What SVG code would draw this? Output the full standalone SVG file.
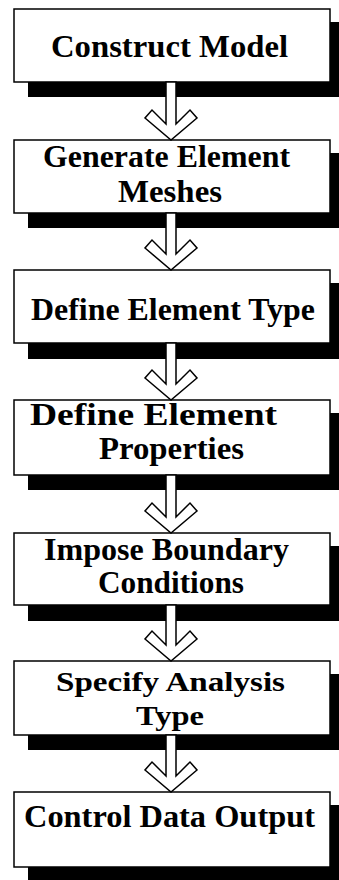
<svg xmlns="http://www.w3.org/2000/svg" width="339" height="880" viewBox="0 0 339 880">
<style>
.sh{fill:#000}
.bx{fill:#fff;stroke:#000;stroke-width:1.5}
.t{font-family:"Liberation Serif","Times New Roman",serif;font-weight:bold;font-size:32px;fill:#000}
.s{font-size:28px}
.m{font-size:31px}
.ar{fill:#fff;stroke:#000;stroke-width:1.5;stroke-linejoin:miter}
</style>
<rect width="339" height="880" fill="#fff"/>
<g id="n1">
<rect class="sh" x="28" y="22" width="311" height="75"/>
<rect class="bx" x="14" y="9" width="316" height="73"/>
<text class="t" x="51" y="57" textLength="237" lengthAdjust="spacingAndGlyphs">Construct Model</text>
</g>
<g id="n2">
<rect class="sh" x="28" y="153" width="311" height="75"/>
<rect class="bx" x="14" y="140" width="316" height="73"/>
<text class="t" x="43" y="167" textLength="247" lengthAdjust="spacingAndGlyphs">Generate Element</text>
<text class="t" x="118" y="202" textLength="104" lengthAdjust="spacingAndGlyphs">Meshes</text>
</g>
<g id="n3">
<rect class="sh" x="28" y="283" width="311" height="76"/>
<rect class="bx" x="14" y="270" width="316" height="73"/>
<text class="t" x="31" y="320" textLength="284" lengthAdjust="spacingAndGlyphs">Define Element Type</text>
</g>
<g id="n4">
<rect class="sh" x="28" y="413" width="311" height="77"/>
<rect class="bx" x="14" y="400" width="316" height="75"/>
<text class="t m" x="30" y="425" textLength="247" lengthAdjust="spacingAndGlyphs">Define Element</text>
<text class="t m" x="99" y="459" textLength="145" lengthAdjust="spacingAndGlyphs">Properties</text>
</g>
<g id="n5">
<rect class="sh" x="28" y="546" width="311" height="75"/>
<rect class="bx" x="14" y="533" width="316" height="72"/>
<text class="t" x="44" y="560" textLength="245" lengthAdjust="spacingAndGlyphs">Impose Boundary</text>
<text class="t" x="98" y="593" textLength="146" lengthAdjust="spacingAndGlyphs">Conditions</text>
</g>
<g id="n6">
<rect class="sh" x="28" y="674" width="311" height="76"/>
<rect class="bx" x="14" y="661" width="316" height="74"/>
<text class="t s" x="56" y="691" textLength="229" lengthAdjust="spacingAndGlyphs">Specify Analysis</text>
<text class="t s" x="136" y="725" textLength="68" lengthAdjust="spacingAndGlyphs">Type</text>
</g>
<g id="n7">
<rect class="sh" x="28" y="805" width="311" height="75"/>
<rect class="bx" x="14" y="792" width="316" height="75"/>
<text class="t" x="24" y="827" textLength="291" lengthAdjust="spacingAndGlyphs">Control Data Output</text>
</g>
<g id="connectors">
<polygon class="ar" points="166,82 166,124 152,110 145,118 171,140 197,118 190,110 176,124 176,82"/>
<polygon class="ar" points="166,213 166,254 152,240 145,248 171,270 197,248 190,240 176,254 176,213"/>
<polygon class="ar" points="166,343 166,384 152,370 145,378 171,400 197,378 190,370 176,384 176,343"/>
<polygon class="ar" points="166,475 166,517 152,503 145,511 171,533 197,511 190,503 176,517 176,475"/>
<polygon class="ar" points="166,605 166,645 152,631 145,639 171,661 197,639 190,631 176,645 176,605"/>
<polygon class="ar" points="166,735 166,776 152,762 145,770 171,792 197,770 190,762 176,776 176,735"/>
</g>
</svg>
